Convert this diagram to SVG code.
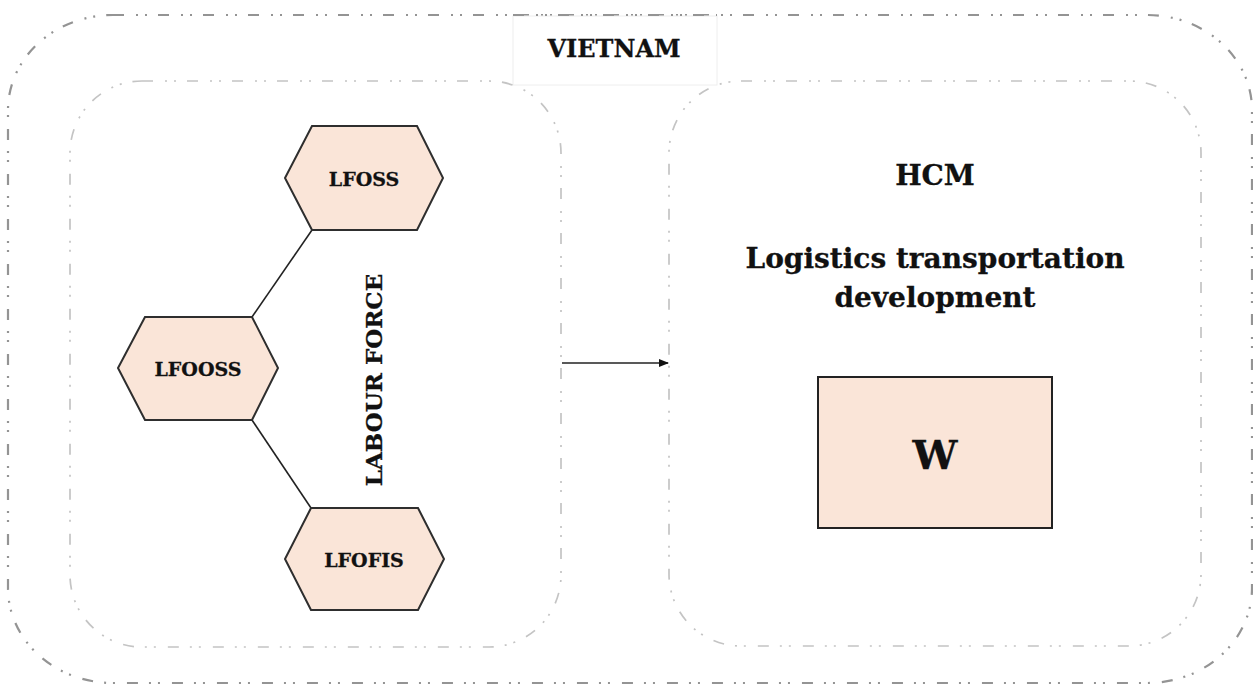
<svg xmlns="http://www.w3.org/2000/svg" width="1253" height="684" viewBox="0 0 1253 684">
<style>
.frame{fill:none;stroke-dasharray:11 12 2 7 2 11;}
.outer{stroke:#949494;stroke-width:2.2;}
.inner{stroke:#c4c4c4;stroke-width:1.7;}
.hex{fill:#fae5d8;stroke:#2e2e2e;stroke-width:2;}
.t{font-family:"DejaVu Serif","Liberation Serif",serif;font-weight:bold;fill:#111;stroke:#111;stroke-width:0.3;text-anchor:middle;}
.conn{stroke:#222;stroke-width:1.6;fill:none;}
</style>
<defs>
<marker id="ah" markerWidth="10" markerHeight="8" refX="9" refY="4" orient="auto" markerUnits="userSpaceOnUse">
<path d="M0,0 L10,4 L0,8 Z" fill="#111"/>
</marker>
</defs>
<rect width="1253" height="684" fill="#fff"/>
<g id="vietnam">
<rect class="frame outer" x="8" y="15" width="1244" height="668" rx="105" ry="95"/>
<rect x="513" y="16" width="204" height="69" fill="#fff" stroke="#eeeeee" stroke-width="1"/>
<line x1="513" y1="15" x2="717" y2="15" class="frame outer"/>
<text class="t" x="614" y="57" font-size="24">VIETNAM</text>
</g>
<g id="labour-force-group">
<rect class="frame inner" x="70" y="81" width="491" height="566" rx="72" ry="72"/>
<text class="t" font-size="23" transform="translate(382,380) rotate(-90)">LABOUR FORCE</text>
</g>
<g id="hcm-group">
<rect class="frame inner" x="669" y="81" width="532" height="565" rx="72" ry="72"/>
<text class="t" x="935" y="185" font-size="28">HCM</text>
<text class="t" x="935" y="268" font-size="28">Logistics transportation</text>
<text class="t" x="935" y="307" font-size="28">development</text>
</g>
<g id="connectors">
<line class="conn" x1="312" y1="230" x2="252" y2="317"/>
<line class="conn" x1="252" y1="420" x2="311" y2="508"/>
<line class="conn" x1="562" y1="363" x2="668" y2="363" marker-end="url(#ah)"/>
</g>
<g id="lfoss">
<polygon class="hex" points="312,126 417,126 443,178 417,230 312,230 285,178"/>
<text class="t" x="364" y="186" font-size="19">LFOSS</text>
</g>
<g id="lfooss">
<polygon class="hex" points="145,317 252,317 278,368 252,420 145,420 118,368"/>
<text class="t" x="198" y="376" font-size="19">LFOOSS</text>
</g>
<g id="lfofis">
<polygon class="hex" points="311,508 418,508 444,559 418,610 311,610 285,559"/>
<text class="t" x="364" y="567" font-size="19">LFOFIS</text>
</g>
<g id="w">
<rect x="818" y="377" width="234" height="151" fill="#fae5d8" stroke="#222" stroke-width="2"/>
<text class="t" x="935" y="469" font-size="40">W</text>
</g>
</svg>
